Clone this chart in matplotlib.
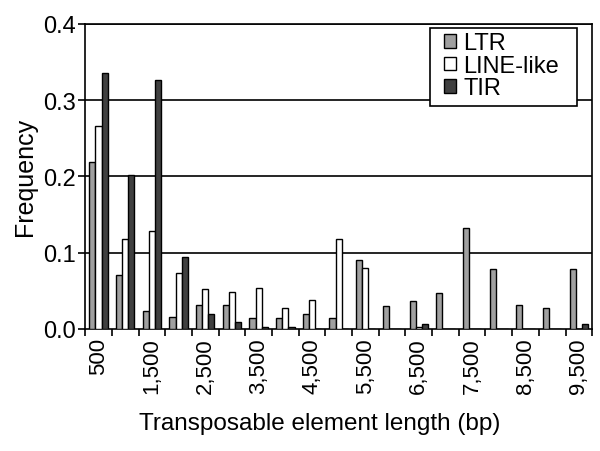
import numpy as np
import matplotlib
matplotlib.use("Agg")
import matplotlib.pyplot as plt
from matplotlib.patches import Rectangle

plt.rcParams["font.family"] = ["Liberation Sans", "DejaVu Sans"]

# Category bins (bp)
lengths = [500, 1000, 1500, 2000, 2500, 3000, 3500, 4000, 4500, 5000,
           5500, 6000, 6500, 7000, 7500, 8000, 8500, 9000, 9500]

# Frequencies
ltr = [0.219, 0.071, 0.023, 0.016, 0.031, 0.031, 0.015, 0.015, 0.020, 0.015,
       0.090, 0.030, 0.037, 0.047, 0.132, 0.079, 0.031, 0.027, 0.079]
line_like = [0.266, 0.118, 0.128, 0.073, 0.052, 0.048, 0.054, 0.027, 0.038, 0.118,
             0.080, 0.0, 0.002, 0.0, 0.0, 0.0, 0.0, 0.0, 0.0]
tir = [0.336, 0.202, 0.326, 0.094, 0.019, 0.009, 0.003, 0.003, 0.0, 0.0,
       0.0, 0.0, 0.006, 0.0, 0.0, 0.0, 0.0, 0.0, 0.006]

series = [("LTR", ltr, "#a0a0a0"),
          ("LINE-like", line_like, "#ffffff"),
          ("TIR", tir, "#404040")]

fig = plt.figure(figsize=(6.0, 4.52), dpi=100)
ax = fig.add_axes([0.142, 0.27, 0.845, 0.675])

x = np.arange(len(lengths))
w = 0.23
for i, (name, vals, col) in enumerate(series):
    ax.bar(x + (i - 1) * w, vals, width=w, color=col, edgecolor="black",
           linewidth=1.0, label=name, zorder=3)

ax.set_ylim(0, 0.4)
ax.set_xlim(-0.5, len(lengths) - 0.5)
ax.set_yticks([0.0, 0.1, 0.2, 0.3, 0.4])
ax.set_yticklabels(["0.0", "0.1", "0.2", "0.3", "0.4"])
for yv in [0.1, 0.2, 0.3, 0.4]:
    ax.axhline(yv, color="black", linewidth=1.2, zorder=1)

# labels at every other category, tick marks at category boundaries
lab_idx = x[::2]
ax.set_xticks(lab_idx)
ax.set_xticklabels([f"{lengths[i]:,}" for i in lab_idx], rotation=90)
ax.set_xticks(np.arange(-0.5, len(lengths)), minor=True)
ax.tick_params(axis="x", which="major", length=0, pad=6, labelsize=16)
ax.tick_params(axis="x", which="minor", length=5, width=1.2, direction="out")
ax.tick_params(axis="y", length=5, width=1.2, direction="out", labelsize=17, pad=2)

for sp in ax.spines.values():
    sp.set_linewidth(1.2)

ax.set_xlabel("Transposable element length (bp)", fontsize=17.5)
ax.xaxis.set_label_coords(0.463, -0.272)
ax.set_ylabel("Frequency", fontsize=18, labelpad=4)

# legend box drawn separately so it can be wider than the entries
frame = Rectangle((0.680, 0.731), 0.290, 0.2556, transform=ax.transAxes,
                  facecolor="white", edgecolor="black", linewidth=1.2,
                  zorder=4, clip_on=False)
ax.add_patch(frame)
leg = ax.legend(loc="upper left", bbox_to_anchor=(0.708, 0.972), fontsize=17,
                frameon=False, handlelength=0.5, handleheight=0.5,
                handletextpad=0.3, labelspacing=0.02, borderpad=0.0,
                borderaxespad=0.0)
leg.set_zorder(5)

fig.savefig("out.png", dpi=100)
